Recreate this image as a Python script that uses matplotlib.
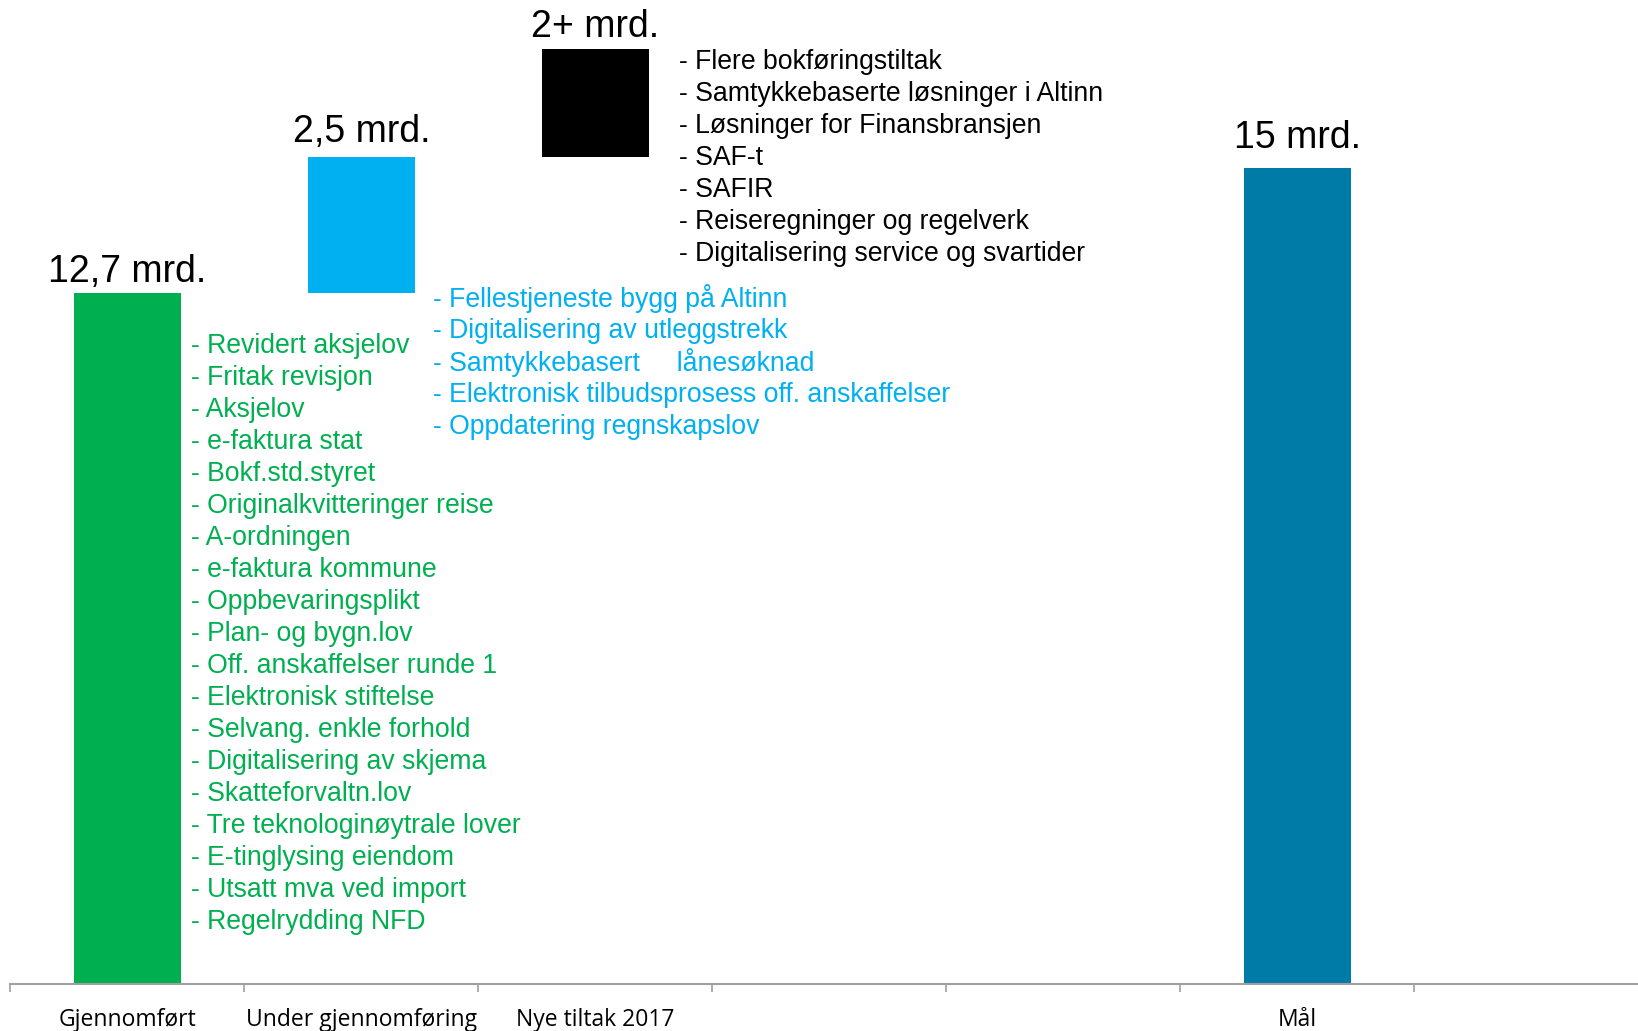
import matplotlib
matplotlib.use('Agg')
import matplotlib.pyplot as plt

# categories on the x axis (7 slots, only some labelled)
categories = ['Gjennomført', 'Under gjennomføring', 'Nye tiltak 2017', '', '', 'Mål', '']

# bars: slot index, bottom, height (mrd. kr)
bar_slot = [0, 1, 2, 5]
bar_bottom = [0, 12.7, 15.2, 0]
bar_height = [12.7, 2.5, 2.0, 15]
bar_labels = ['12,7 mrd.', '2,5 mrd.', '2+ mrd.', '15 mrd.']
bar_colors = ['#00B050', '#00B0F0', '#000000', '#007BA7']

done_items = ['Revidert aksjelov', 'Fritak revisjon', 'Aksjelov', 'e-faktura stat',
              'Bokf.std.styret', 'Originalkvitteringer reise', 'A-ordningen',
              'e-faktura kommune', 'Oppbevaringsplikt', 'Plan- og bygn.lov',
              'Off. anskaffelser runde 1', 'Elektronisk stiftelse',
              'Selvang. enkle forhold', 'Digitalisering av skjema',
              'Skatteforvaltn.lov', 'Tre teknologinøytrale lover',
              'E-tinglysing eiendom', 'Utsatt mva ved import', 'Regelrydding NFD']
ongoing_items = ['Fellestjeneste bygg på Altinn', 'Digitalisering av utleggstrekk',
                 'Samtykkebasert     lånesøknad',
                 'Elektronisk tilbudsprosess off. anskaffelser',
                 'Oppdatering regnskapslov']
new_items = ['Flere bokføringstiltak', 'Samtykkebaserte løsninger i Altinn',
             'Løsninger for Finansbransjen', 'SAF-t', 'SAFIR',
             'Reiseregninger og regelverk', 'Digitalisering service og svartider']

W, H = 1638, 1031
fig = plt.figure(figsize=(W / 100, H / 100), dpi=100)
# axes spans 7 slots of 234 px, starting 10 px in; right end runs past the figure
ax = fig.add_axes([10.4 / W, 47 / H, 7 * 234 / W, 984 / H])
ax.set_xlim(-0.5, 6.5)
ax.set_ylim(0, 984 / 54.38)

ax.bar(bar_slot, bar_height, bottom=bar_bottom, width=0.455, color=bar_colors, zorder=2)

# value labels above bars
label_pad = [3, 7, 4, 12]
for s, b, h, txt, pad in zip(bar_slot, bar_bottom, bar_height, bar_labels, label_pad):
    ax.annotate(txt, (s, b + h), xytext=(0, pad * 0.72), textcoords='offset points',
                ha='center', va='bottom', fontsize=27, family='Liberation Sans', color='black')

# bullet lists
def draw_list(items, x, y, color):
    for i, it in enumerate(items):
        ax.annotate('- ' + it, (x, y), xytext=(0, -i * 32 * 0.72), textcoords='offset points',
                    ha='left', va='center', fontsize=19.2, family='Liberation Sans', color=color)

draw_list(done_items, 0.272, 11.73, '#00B050')
draw_list(ongoing_items, 1.304, 12.60, '#00B0F0')
draw_list(new_items, 2.357, 16.95, 'black')

# axis styling
for sp in ['top', 'right', 'left']:
    ax.spines[sp].set_visible(False)
ax.spines['bottom'].set_color('#A0A0A0')
ax.spines['bottom'].set_linewidth(1.5)
ax.set_yticks([])
ax.set_xticks([i - 0.5 for i in range(len(categories))])
ax.set_xticklabels([])
ax.tick_params(axis='x', which='major', length=6, width=1.2, color='#A0A0A0', direction='out')
ax.set_xticks(range(len(categories)), minor=True)
ax.set_xticklabels(categories, minor=True, fontsize=16.5, family='Open Sans')
ax.tick_params(axis='x', which='minor', length=0, pad=17)

fig.savefig('out.png', dpi=100)
